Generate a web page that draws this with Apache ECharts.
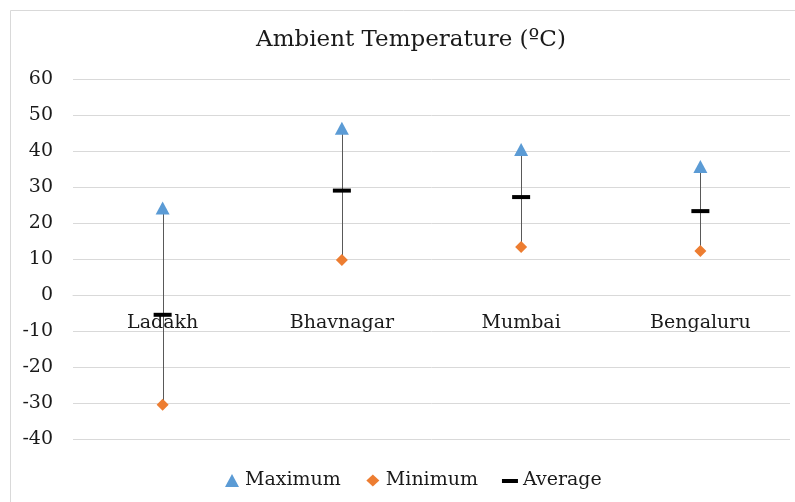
<!DOCTYPE html>
<html>
<head>
<meta charset="utf-8">
<script src="https://cdn.jsdelivr.net/npm/echarts@6/dist/echarts.min.js"></script>
<style>
  html, body { margin: 0; padding: 0; background: #ffffff; }
  #chart { width: 795px; height: 502px; }
</style>
</head>
<body>
<div id="chart"></div>
<script>
// Ambient temperature ranges per location (°C)
var locations = ['Ladakh', 'Bhavnagar', 'Mumbai', 'Bengaluru'];
var maxTemps  = [24.2, 46.3, 40.4, 35.7];
var minTemps  = [-30.5, 9.7, 13.3, 12.2];
var avgTemps  = [-5.5, 29.0, 27.2, 23.3];
var yTicks    = { min: -40, max: 60, step: 10 };

var FONT = 'DejaVu Serif';
var TEXT = '#1a1a1a';

var GRID = { left: 73, right: 5, top: 79, bottom: 63 };
var plotHeight = 502 - GRID.top - GRID.bottom;
// lift the category axis from the bottom edge up to the zero line
var zeroOffset = -plotHeight * (0 - yTicks.min) / (yTicks.max - yTicks.min);

var chart = echarts.init(document.getElementById('chart'), null, { renderer: 'canvas' });

// high-low connector from each minimum up to its maximum
var rangeData = locations.map(function (name, i) { return [i, minTemps[i], maxTemps[i]]; });

chart.setOption({
  animation: false,
  backgroundColor: '#ffffff',
  textStyle: { fontFamily: FONT, color: TEXT },
  graphic: [{
    type: 'rect',
    shape: { x: 10.5, y: 10.5, width: 800, height: 500 },
    style: { fill: 'none', stroke: '#d9d9d9', lineWidth: 1 },
    silent: true
  }],
  title: {
    text: 'Ambient Temperature (ºC)',
    left: 406,
    top: 24,
    textAlign: 'center',
    textStyle: { fontFamily: FONT, fontSize: 23, fontWeight: 'normal', color: TEXT }
  },
  legend: {
    bottom: 7,
    left: 219,
    itemWidth: 16,
    itemHeight: 13,
    itemGap: 24,
    textStyle: { fontFamily: FONT, fontSize: 19, color: TEXT },
    data: [
      { name: 'Maximum', icon: 'path://M0,0M16,13M1,13L8,0L15,13Z' },
      { name: 'Minimum', icon: 'path://M0,0M16,13M8,0.5L14.5,6.5L8,12.5L1.5,6.5Z' },
      { name: 'Average', icon: 'path://M0,0M16,13M0,5H16V9H0Z' }
    ]
  },
  grid: { left: GRID.left, right: GRID.right, top: GRID.top, bottom: GRID.bottom, containLabel: false },
  xAxis: {
    type: 'category',
    data: locations,
    boundaryGap: true,
    offset: zeroOffset,
    axisLine: { onZero: false, lineStyle: { color: '#d9d9d9', width: 1 } },
    axisTick: { show: false },
    axisLabel: { fontFamily: FONT, fontSize: 19, color: TEXT, margin: 19 },
    splitLine: { show: false }
  },
  yAxis: {
    type: 'value',
    min: yTicks.min,
    max: yTicks.max,
    interval: yTicks.step,
    axisLine: { show: false },
    axisTick: { show: false },
    axisLabel: { fontFamily: FONT, fontSize: 19, color: TEXT, margin: 20 },
    splitLine: { lineStyle: { color: '#d9d9d9', width: 1 } }
  },
  series: [
    {
      name: 'Range',
      type: 'custom',
      z: 1,
      data: rangeData,
      encode: { x: 0, y: [1, 2] },
      renderItem: function (params, api) {
        var lo = api.coord([api.value(0), api.value(1)]);
        var hi = api.coord([api.value(0), api.value(2)]);
        var x = Math.round(lo[0]) + 0.5;
        return {
          type: 'line',
          shape: { x1: x, y1: lo[1], x2: x, y2: hi[1] },
          style: { stroke: '#595959', lineWidth: 1 }
        };
      }
    },
    {
      name: 'Maximum',
      type: 'scatter',
      z: 3,
      symbol: 'triangle',
      symbolSize: [14, 13],
      itemStyle: { color: '#5B9BD5', opacity: 1 },
      data: maxTemps
    },
    {
      name: 'Minimum',
      type: 'scatter',
      z: 3,
      symbol: 'diamond',
      symbolSize: 12,
      itemStyle: { color: '#ED7D31', opacity: 1 },
      data: minTemps
    },
    {
      name: 'Average',
      type: 'scatter',
      z: 4,
      symbol: 'rect',
      symbolSize: [18, 4],
      itemStyle: { color: '#000000', opacity: 1 },
      data: avgTemps
    }
  ]
});
</script>
</body>
</html>
